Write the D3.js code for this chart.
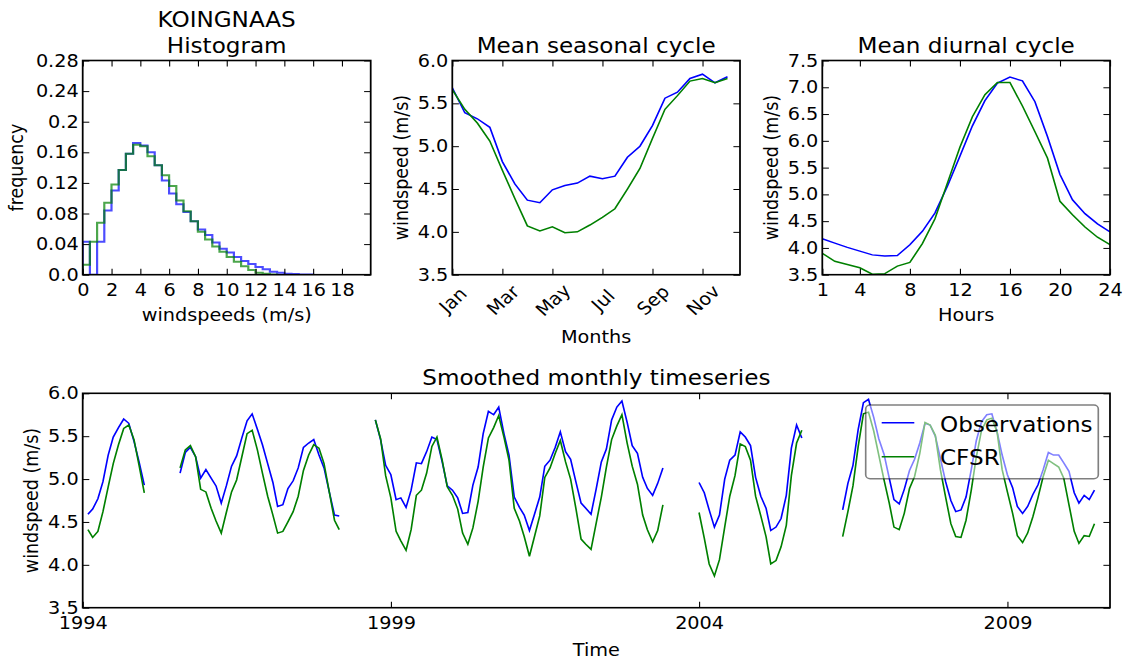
<!DOCTYPE html>
<html>
<head>
<meta charset="utf-8">
<script src="https://cdn.jsdelivr.net/npm/d3@7"></script>
<style>
  html, body { margin: 0; padding: 0; background: #fff; }
  svg { display: block; }
</style>
</head>
<body>
<div id="chart"></div>
<script>
// ---- data ----
const histBinWidth = 0.5;
const histObs = [0.043, 0, 0.043, 0.084, 0.110, 0.137, 0.158, 0.172, 0.169, 0.160,
    0.143, 0.123, 0.106, 0.092, 0.082, 0.070, 0.059, 0.052, 0.042, 0.034,
    0.029, 0.023, 0.018, 0.014, 0.010, 0.007, 0.004, 0.0026, 0.0013, 0.0009, 0.0004, 0.0002];
const histCfsr = [0.013, 0.043, 0.068, 0.094, 0.118, 0.137, 0.158, 0.170, 0.168, 0.155,
    0.143, 0.130, 0.116, 0.097, 0.083, 0.070, 0.056, 0.046, 0.037, 0.030,
    0.023, 0.017, 0.011, 0.006, 0.0026, 0.0013, 0.0004];
const histXTicks = [0, 2, 4, 6, 8, 10, 12, 14, 16, 18];
const histYTicks = [0, 0.04, 0.08, 0.12, 0.16, 0.2, 0.24, 0.28];
const histYLabels = ["0.0", "0.04", "0.08", "0.12", "0.16", "0.2", "0.24", "0.28"];

const seasonMonths = [0, 0.5, 1, 1.5, 2, 2.5, 3, 3.5, 4, 4.5, 5, 5.5, 6, 6.5, 7, 7.5, 8, 8.5, 9, 9.5, 10, 10.5, 11];
const seasonObs = [5.68, 5.39, 5.32, 5.22, 4.82, 4.56, 4.37, 4.34, 4.49, 4.54, 4.57, 4.65,
    4.62, 4.65, 4.87, 5.00, 5.24, 5.56, 5.63, 5.79, 5.84, 5.74, 5.81];
const seasonCfsr = [5.66, 5.43, 5.27, 5.06, 4.72, 4.39, 4.07, 4.01, 4.06, 3.99, 4.00, 4.08,
    4.17, 4.27, 4.50, 4.74, 5.09, 5.43, 5.59, 5.76, 5.79, 5.74, 5.79];
const seasonXTicks = [0, 2, 4, 6, 8, 10];
const seasonXLabels = ["Jan", "Mar", "May", "Jul", "Sep", "Nov"];
const seasonYTicks = [3.5, 4.0, 4.5, 5.0, 5.5, 6.0];

const diurHours = [1, 2, 3, 4, 5, 6, 7, 8, 9, 10, 11, 12, 13, 14, 15, 16, 17, 18, 19, 20, 21, 22, 23, 24];
const diurObs = [4.17, 4.09, 4.01, 3.94, 3.87, 3.85, 3.86, 4.06, 4.31, 4.65, 5.15, 5.71,
    6.28, 6.75, 7.08, 7.19, 7.12, 6.73, 6.08, 5.37, 4.90, 4.64, 4.45, 4.30];
const diurCfsr = [3.90, 3.75, 3.69, 3.63, 3.51, 3.52, 3.66, 3.73, 4.08, 4.54, 5.21, 5.88,
    6.45, 6.86, 7.09, 7.09, 6.65, 6.17, 5.68, 4.87, 4.62, 4.39, 4.20, 4.06];
const diurXTicks = [1, 4, 8, 12, 16, 20, 24];
const diurYTicks = [3.5, 4.0, 4.5, 5.0, 5.5, 6.0, 6.5, 7.0, 7.5];

// monthly values, index 0 = Jan 1994, null = missing
const tsObs = [null,
    4.59, 4.65, 4.77, 4.97, 5.28, 5.49, 5.60, 5.70, 5.65, 5.44, 5.20, 4.93,
    null, null, null, null, null, null,
    5.07, 5.31, 5.37, 5.26, 5.01, 5.11, 5.01, 4.92, 4.72, 4.92,
    5.15, 5.27, 5.48, 5.68, 5.76, 5.58, 5.40, 5.18, 4.96, 4.68,
    4.70, 4.89, 4.98, 5.13, 5.37, 5.42, 5.46, 5.28, 5.13, 4.85,
    4.58, 4.57,
    null, null, null, null, null, null,
    5.69, 5.46, 5.16, 5.05, 4.76, 4.78, 4.67, 4.87, 5.19, 5.18,
    5.32, 5.49, 5.46, 5.20, 4.92, 4.87, 4.78, 4.60, 4.61, 4.93,
    5.14, 5.53, 5.79, 5.75, 5.84, 5.53, 5.28, 4.79, 4.67, 4.58,
    4.40, 4.59, 4.79, 5.15, 5.22, 5.37, 5.55, 5.32, 5.23, 4.97,
    4.72, 4.66, 4.59, 4.88, 5.20, 5.35, 5.69, 5.84, 5.91, 5.66,
    5.39, 5.30, 5.02, 4.89, 4.81, 4.95, 5.13,
    null, null, null, null, null, null,
    4.96, 4.84, 4.64, 4.44, 4.58, 5.00, 5.22, 5.28, 5.55, 5.49,
    5.39, 5.02, 4.80, 4.66, 4.40, 4.44, 4.54, 4.81, 5.36, 5.63, 5.48,
    null, null, null, null, null, null, null,
    4.64, 4.95, 5.16, 5.58, 5.89, 5.93, 5.72, 5.47, 5.29, 5.01,
    4.76, 4.71, 4.88, 5.10, 5.23, 5.42, 5.65, 5.63, 5.50, 5.24,
    4.97, 4.75, 4.62, 4.64, 4.79, 5.11, 5.45, 5.67, 5.75, 5.76,
    5.55, 5.28, 5.05, 4.90, 4.68, 4.60, 4.68, 4.82, 4.93, 5.11,
    5.31, 5.28, 5.28, 5.19, 5.09, 4.84, 4.72, 4.81, 4.76, 4.87];
const tsCfsr = [null,
    4.41, 4.32, 4.39, 4.62, 4.91, 5.18, 5.40, 5.59, 5.63, 5.46, 5.16, 4.84,
    null, null, null, null, null, null,
    5.13, 5.34, 5.39, 5.26, 4.88, 4.85, 4.66, 4.51, 4.37, 4.61,
    4.85, 4.99, 5.26, 5.53, 5.57, 5.34, 5.07, 4.80, 4.58, 4.37,
    4.39, 4.50, 4.62, 4.80, 5.10, 5.28, 5.40, 5.36, 5.18, 4.85,
    4.52, 4.41,
    null, null, null, null, null, null,
    5.69, 5.47, 5.04, 4.78, 4.39, 4.28, 4.17, 4.41, 4.81, 4.87,
    5.07, 5.38, 5.49, 5.22, 4.91, 4.81, 4.65, 4.37, 4.24, 4.43,
    4.74, 5.14, 5.48, 5.60, 5.74, 5.49, 5.22, 4.66, 4.51, 4.33,
    4.10, 4.33, 4.57, 5.02, 5.13, 5.30, 5.45, 5.20, 5.00, 4.66,
    4.30, 4.24, 4.18, 4.48, 4.79, 5.14, 5.46, 5.62, 5.75, 5.42,
    5.15, 4.94, 4.58, 4.41, 4.27, 4.40, 4.70,
    null, null, null, null, null, null,
    4.61, 4.31, 4.01, 3.87, 4.06, 4.44, 4.80, 5.04, 5.41, 5.38,
    5.22, 4.80, 4.57, 4.33, 4.01, 4.05, 4.21, 4.46, 5.04, 5.42, 5.57,
    null, null, null, null, null, null, null,
    4.33, 4.62, 4.92, 5.38, 5.76, 5.78, 5.56, 5.28, 4.99, 4.72,
    4.44, 4.41, 4.60, 4.89, 5.03, 5.30, 5.66, 5.63, 5.51, 5.11,
    4.79, 4.48, 4.33, 4.32, 4.52, 4.87, 5.26, 5.57, 5.69, 5.71,
    5.55, 5.11, 4.85, 4.60, 4.34, 4.26, 4.37, 4.56, 4.78, 5.03,
    5.22, 5.18, 5.14, 5.01, 4.70, 4.39, 4.25, 4.34, 4.33, 4.48];
const tsYearTicks = [1994, 1999, 2004, 2009];
const tsYTicks = [3.5, 4.0, 4.5, 5.0, 5.5, 6.0];

const seriesNames = ["Observations", "CFSR"];
const colObs = "#0000ff", colCfsr = "#008000";

// ---- figure ----
// the source figure was saved a little wider than tall, so draw in a
// narrower coordinate space and let the svg stretch it
const SX = 1.1;
const W = 1131, H = 662;
const px = v => v / SX;
const FONT = "'DejaVu Sans', 'Bitstream Vera Sans', sans-serif";
const TICK_FS = 17.5, TITLE_FS = 21;

const svg = d3.select("#chart").append("svg")
    .attr("width", W)
    .attr("height", H)
    .attr("viewBox", `0 0 ${W / SX} ${H}`)
    .attr("preserveAspectRatio", "none")
    .style("font-family", FONT);

svg.append("rect").attr("width", W / SX).attr("height", H).attr("fill", "#fff");

// axes boxes, in screen pixels
const boxes = {
    hist: {l: 82.7, r: 370.7, t: 60.5, b: 274.7},
    seas: {l: 452.3, r: 740, t: 60.5, b: 274.7},
    diur: {l: 822.3, r: 1110, t: 60.5, b: 274.7},
    ts:   {l: 82.7, r: 1110, t: 393.3, b: 607.7}
};

let clipCount = 0;
function makePanel(box, x, yDomain) {
    x.range([px(box.l), px(box.r)]);
    const y = d3.scaleLinear().domain(yDomain).range([box.b, box.t]);
    const g = svg.append("g");
    const id = "clip" + (clipCount++);
    svg.append("clipPath").attr("id", id).append("rect")
        .attr("x", px(box.l)).attr("y", box.t)
        .attr("width", px(box.r) - px(box.l)).attr("height", box.b - box.t);
    const plot = g.append("g").attr("clip-path", `url(#${id})`);
    return {x, y, g, plot, box};
}

function drawAxes(p, xTicks, xFmt, yTicks, yFmt) {
    const {x, y, g, box} = p;
    const t = 6;
    const styleAxis = sel => sel
        .attr("font-family", FONT)
        .attr("font-size", TICK_FS)
        .call(s => s.select(".domain").remove())
        .call(s => s.selectAll("text").attr("fill", "#000"))
        .call(s => s.selectAll("line").attr("stroke", "#000").attr("stroke-width", 1));

    const xb = g.append("g").attr("transform", `translate(0,${box.b})`)
        .call(d3.axisBottom(x).tickValues(xTicks).tickFormat(xFmt)
            .tickSizeInner(-t).tickSizeOuter(0).tickPadding(8.6))
        .call(styleAxis);
    g.append("g").attr("transform", `translate(0,${box.t})`)
        .call(d3.axisTop(x).tickValues(xTicks).tickFormat(() => "")
            .tickSizeInner(-t).tickSizeOuter(0))
        .call(styleAxis);
    g.append("g").attr("transform", `translate(${px(box.l)},0)`)
        .call(d3.axisLeft(y).tickValues(yTicks).tickFormat(yFmt)
            .tickSizeInner(-t).tickSizeOuter(0).tickPadding(px(4)))
        .call(styleAxis);
    g.append("g").attr("transform", `translate(${px(box.r)},0)`)
        .call(d3.axisRight(y).tickValues(yTicks).tickFormat(() => "")
            .tickSizeInner(-t).tickSizeOuter(0))
        .call(styleAxis);

    g.append("rect")
        .attr("x", px(box.l)).attr("y", box.t)
        .attr("width", px(box.r) - px(box.l)).attr("height", box.b - box.t)
        .attr("fill", "none").attr("stroke", "#000").attr("stroke-width", 1.6);
    return xb;
}

function addText(str, x, y, size, anchor) {
    return svg.append("text")
        .attr("x", px(x)).attr("y", y)
        .attr("font-size", size)
        .attr("text-anchor", anchor || "middle")
        .attr("fill", "#000")
        .text(str);
}

function addYLabel(str, baseX, box) {
    const cy = (box.t + box.b) / 2;
    svg.append("text")
        .attr("transform", `translate(${px(baseX)},${cy}) rotate(-90)`)
        .attr("font-size", TICK_FS)
        .attr("text-anchor", "middle")
        .attr("fill", "#000")
        .text(str);
}

const fmt1 = d3.format(".1f");

// ---- histogram ----
(function() {
    const p = makePanel(boxes.hist, d3.scaleLinear().domain([0, 20]), [0, 0.28]);
    const step = d3.line()
        .x(d => p.x(d[0]))
        .y(d => p.y(d[1]))
        .curve(d3.curveStepAfter);
    function stepPoints(freqs) {
        const pts = [[0, 0]];
        freqs.forEach((f, i) => pts.push([i * histBinWidth, f]));
        pts.push([freqs.length * histBinWidth, 0]);
        return pts;
    }
    [[histObs, colObs], [histCfsr, colCfsr]].forEach(([freqs, col]) => {
        p.plot.append("path")
            .attr("d", step(stepPoints(freqs)))
            .attr("fill", "none")
            .attr("stroke", col)
            .attr("stroke-opacity", 0.7)
            .attr("stroke-width", 2);
    });
    drawAxes(p, histXTicks, d => String(d), histYTicks, (d, i) => histYLabels[i]);
    const cx = (boxes.hist.l + boxes.hist.r) / 2;
    addText("KOINGNAAS", cx, 27.3, TITLE_FS);
    addText("Histogram", cx, 52.7, TITLE_FS);
    addText("windspeeds (m/s)", cx, 321, TICK_FS);
    addYLabel("frequency", 22.6, boxes.hist);
})();

// ---- seasonal cycle ----
(function() {
    const p = makePanel(boxes.seas, d3.scaleLinear().domain([0, 11.5]), [3.5, 6.0]);
    const line = d3.line().x(d => p.x(d[0])).y(d => p.y(d[1]));
    [[seasonObs, colObs], [seasonCfsr, colCfsr]].forEach(([vals, col]) => {
        p.plot.append("path")
            .attr("d", line(seasonMonths.map((m, i) => [m, vals[i]])))
            .attr("fill", "none").attr("stroke", col).attr("stroke-width", 1.5);
    });
    const xb = drawAxes(p, seasonXTicks, (d, i) => seasonXLabels[i], seasonYTicks, fmt1);
    xb.selectAll(".tick text")
        .attr("y", 0).attr("dy", "0.35em")
        .attr("text-anchor", "middle")
        .attr("transform", "translate(0,25.5) rotate(-45)");
    const cx = (boxes.seas.l + boxes.seas.r) / 2;
    addText("Mean seasonal cycle", cx, 52.7, TITLE_FS);
    addText("Months", cx, 343, TICK_FS);
    addYLabel("windspeed (m/s)", 408.3, boxes.seas);
})();

// ---- diurnal cycle ----
(function() {
    const p = makePanel(boxes.diur, d3.scaleLinear().domain([1, 24]), [3.5, 7.5]);
    const line = d3.line().x(d => p.x(d[0])).y(d => p.y(d[1]));
    [[diurObs, colObs], [diurCfsr, colCfsr]].forEach(([vals, col]) => {
        p.plot.append("path")
            .attr("d", line(diurHours.map((h, i) => [h, vals[i]])))
            .attr("fill", "none").attr("stroke", col).attr("stroke-width", 1.5);
    });
    drawAxes(p, diurXTicks, d => String(d), diurYTicks, fmt1);
    const cx = (boxes.diur.l + boxes.diur.r) / 2;
    addText("Mean diurnal cycle", cx, 52.7, TITLE_FS);
    addText("Hours", cx, 321.5, TICK_FS);
    addYLabel("windspeed (m/s)", 778.3, boxes.diur);
})();

// ---- monthly timeseries ----
(function() {
    const x = d3.scaleUtc().domain([new Date(Date.UTC(1994, 0, 1)), new Date(Date.UTC(2010, 8, 1))]);
    const p = makePanel(boxes.ts, x, [3.5, 6.0]);
    const line = d3.line()
        .defined(d => d.v != null)
        .x(d => p.x(d.date))
        .y(d => p.y(d.v));
    const asPoints = vals => vals.map((v, i) => ({date: new Date(Date.UTC(1994, i, 1)), v}));
    [[tsObs, colObs], [tsCfsr, colCfsr]].forEach(([vals, col]) => {
        p.plot.append("path")
            .attr("d", line(asPoints(vals)))
            .attr("fill", "none").attr("stroke", col).attr("stroke-width", 1.5);
    });
    const yearDates = tsYearTicks.map(yr => new Date(Date.UTC(yr, 0, 1)));
    drawAxes(p, yearDates, d3.utcFormat("%Y"), tsYTicks, fmt1);

    // legend
    const lg = svg.append("g");
    lg.append("rect")
        .attr("x", px(865.7)).attr("y", 405)
        .attr("width", px(1098.3) - px(865.7)).attr("height", 73.7)
        .attr("rx", 4).attr("ry", 4)
        .attr("fill", "#fff").attr("fill-opacity", 0.5)
        .attr("stroke", "#000").attr("stroke-opacity", 0.5).attr("stroke-width", 1.5);
    [[colObs, 422.7, 432.3], [colCfsr, 456.7, 465]].forEach(([col, ly, ty], i) => {
        lg.append("line")
            .attr("x1", px(881.7)).attr("x2", px(914.3))
            .attr("y1", ly).attr("y2", ly)
            .attr("stroke", col).attr("stroke-width", 1.5);
        lg.append("text")
            .attr("x", px(940)).attr("y", ty)
            .attr("font-size", TITLE_FS).attr("fill", "#000")
            .text(seriesNames[i]);
    });

    const cx = (boxes.ts.l + boxes.ts.r) / 2;
    addText("Smoothed monthly timeseries", cx, 385.5, TITLE_FS);
    addText("Time", cx, 656, TICK_FS);
    addYLabel("windspeed (m/s)", 38.3, boxes.ts);
})();
</script>
</body>
</html>
